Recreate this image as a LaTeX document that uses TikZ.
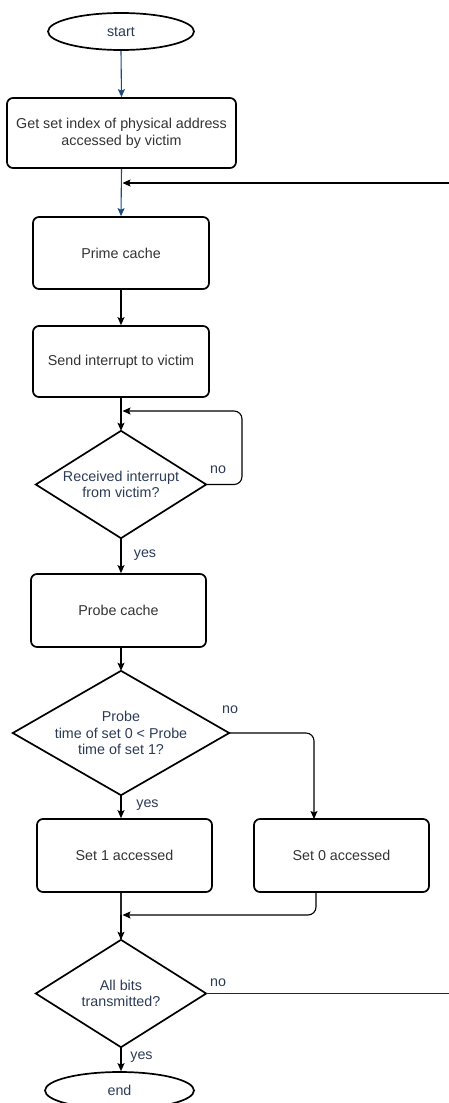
\documentclass[tikz,border=0pt]{standalone}
\usepackage{fontspec}
\setmainfont{Liberation Sans}
\usetikzlibrary{shapes.geometric,arrows.meta}
\definecolor{inktext}{HTML}{333333}
\definecolor{labeltext}{HTML}{2B3B57}
\definecolor{flowblue}{HTML}{1D4A82}
\tikzset{
  procbox/.style={draw=black, line width=1.7pt, rounded corners=6pt, fill=white,
    text=inktext, align=center, inner sep=0pt},
  terminal/.style={draw=black, line width=1.7pt, ellipse, fill=white,
    text=labeltext, inner sep=0pt},
  decision/.style={draw=none, text=labeltext, align=center, inner sep=0pt},
  decisionline/.style={draw=black, line width=1.7pt, line join=miter},
  flow/.style={draw=black, line width=1.1pt, -{Stealth[length=8pt,width=7pt,inset=1.5pt]}},
  blueflow/.style={flow, draw=flowblue, color=flowblue},
  plainline/.style={draw=black!85, line width=1.1pt},
  branch/.style={text=labeltext, inner sep=0pt},
}
\begin{document}
\begin{tikzpicture}[x=1pt, y=-1pt, font=\fontsize{14.3}{16.7}\selectfont]
\useasboundingbox (0,0) rectangle (449,1103);

% main column of steps
\node[terminal, minimum width=146, minimum height=37] (start) at (121,31.5) {start};
\node[procbox, minimum width=229, minimum height=70] (getidx) at (121.5,133)
  {Get set index of physical address\\accessed by victim};
\node[procbox, minimum width=176, minimum height=72] (prime) at (121,253) {Prime cache};
\node[procbox, minimum width=176, minimum height=71] (send) at (121,361.5) {Send interrupt to victim};

\node[decision, minimum width=170, minimum height=107] (recv) at (121,484.5)
  {Received interrupt\\from victim?};
\draw[decisionline] (recv.north) -- (recv.east) -- (recv.south) -- (recv.west) -- cycle;

\node[procbox, minimum width=175, minimum height=73] (probe) at (118.5,610.5) {Probe cache};

\node[decision, minimum width=216, minimum height=124] (cmp) at (121,733)
  {Probe\\time of set 0 < Probe\\time of set 1?};
\draw[decisionline] (cmp.north) -- (cmp.east) -- (cmp.south) -- (cmp.west) -- cycle;

\node[procbox, minimum width=175, minimum height=73] (set1) at (124.5,855.5) {Set 1 accessed};
\node[procbox, minimum width=175, minimum height=73] (set0) at (341.5,855.5) {Set 0 accessed};

\node[decision, minimum width=170, minimum height=107] (done) at (121,993.5)
  {All bits\\transmitted?};
\draw[decisionline] (done.north) -- (done.east) -- (done.south) -- (done.west) -- cycle;

\node[terminal, minimum width=149, minimum height=37] (end) at (119.5,1090.5) {end};

% helper points for the loops and merges
\coordinate (outerin) at (449,183);
\coordinate (outerout) at (449,993.5);
\coordinate (joinA) at (121,183);
\coordinate (joinB) at (121,411);
\coordinate (joinC) at (121,915);
\coordinate (set0drop) at (314,819);
\coordinate (set0out) at (316,892);

% straight flow
\draw[blueflow] (start.south) -- (getidx.north);
\draw[blueflow] (getidx.south) -- (prime.north);
\draw[flow] (prime.south) -- (send.north);
\draw[flow] (send.south) -- (recv.north);
\draw[flow] (recv.south) -- (recv.south |- probe.north);
\draw[flow] (probe.south -| cmp.north) -- (cmp.north);
\draw[flow] (cmp.south) -- (cmp.south |- set1.north);
\draw[plainline] (set1.south -| done.north) -- (done.north);
\draw[flow] (done.south) -- (done.south |- end.north);

% branches and loops
\draw[flow, rounded corners=8pt] (recv.east) -- (242,484.5) -- (242,411) -- ([xshift=1.5]joinB);
\draw[flow, rounded corners=8pt] (cmp.east) -| (set0drop);
\draw[flow, rounded corners=8pt] (set0out) |- ([xshift=1.5]joinC);
\draw[flow] (done.north |- joinC) -- (done.north);
\draw[plainline] (done.east) -- (outerout);
\draw[flow] (outerin) -- ([xshift=1.5]joinA);

% branch labels
\node[branch] (noA) at (218,470) {no};
\node[branch] (yesA) at (145,555) {yes};
\node[branch] (noB) at (230,710) {no};
\node[branch] (yesB) at (147.5,805) {yes};
\node[branch] (noC) at (218,983) {no};
\node[branch] (yesC) at (141.5,1057) {yes};
\end{tikzpicture}
\end{document}
